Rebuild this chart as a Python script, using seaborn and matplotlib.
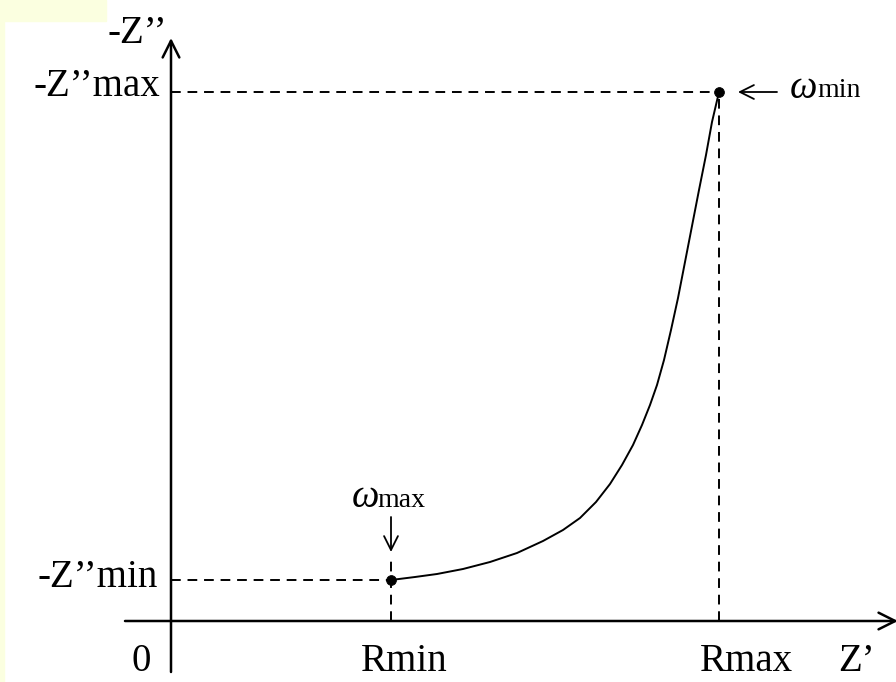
import matplotlib
matplotlib.use("Agg")
import matplotlib.pyplot as plt
import seaborn as sns
import pandas as pd
from matplotlib.patches import Rectangle

sns.set_theme(style="white")
plt.rcParams['font.family'] = ['Liberation Serif', 'DejaVu Serif']
plt.rcParams['text.color'] = 'black'

# Data (Z' along x, -Z'' along y), arbitrary units
curve_re = [220, 244, 266, 292, 319, 346, 372, 392, 409, 425, 439, 451, 462,
            471, 479, 486, 493, 500, 507, 514, 521, 528, 535, 541, 548]
curve_im = [41, 44, 47, 52, 59, 68, 80, 91, 103, 119, 137, 156, 176,
            196, 216, 236, 261, 291, 323, 359, 395, 431, 466, 499, 529]
r_min, r_max = 220, 548
z_min, z_max = 41, 529
end_re = [r_min, r_max]
end_im = [z_min, z_max]

df = pd.DataFrame({"re": curve_re, "im": curve_im})
pts = pd.DataFrame({"re": end_re, "im": end_im})

fig = plt.figure(figsize=(8.96, 6.82), dpi=100)
ax = fig.add_axes([0, 0, 1, 1])

# yellow decorations
ycol = "#FBFFE0"
fig.patches.append(Rectangle((0, 1 - 21 / 682), 106 / 896, 21 / 682, transform=fig.transFigure,
                             color=ycol, zorder=0))
fig.patches.append(Rectangle((0, 0), 4 / 896, 1, transform=fig.transFigure, color=ycol, zorder=0))

# curve and endpoints
sns.lineplot(data=df, x="re", y="im", ax=ax, color="black", lw=1.4, sort=False, estimator=None)
sns.scatterplot(data=pts, x="re", y="im", ax=ax, color="black", s=50, zorder=5, edgecolor="black")
ax.set_xlim(-171, 725)
ax.set_ylim(-61, 621)
ax.axis("off")

# axes with arrows
arrow_kw = dict(arrowstyle="->", color="black", lw=1.8, mutation_scale=30, shrinkA=0, shrinkB=0)
ax.annotate("", xy=(0, 583), xytext=(0, -51), arrowprops=arrow_kw)
ax.annotate("", xy=(727, 0), xytext=(-46, 0), arrowprops=arrow_kw, annotation_clip=False)

# dashed guide lines
dash = dict(color="black", lw=1.4, linestyle=(0, (5, 3.5)))
ax.plot([0, r_max], [z_max, z_max], **dash)
ax.plot([r_max, r_max], [0, z_max], **dash)
ax.plot([0, r_min], [z_min, z_min], **dash)
ax.plot([r_min, r_min], [0, z_min + 20], **dash)

# omega arrows
small_arrow = dict(arrowstyle="->", color="black", lw=1.3, mutation_scale=25, shrinkA=0, shrinkB=0)
ax.annotate("", xy=(r_max + 19, z_max), xytext=(r_max + 58, z_max), arrowprops=small_arrow)
ax.annotate("", xy=(r_min, 69), xytext=(r_min, 104), arrowprops=small_arrow)

fs = 28
ax.text(-4, 578, "-Z\u2019\u2019", fontsize=fs, ha="right", va="baseline")
ax.text(-11, 525, "-Z\u2019\u2019max", fontsize=fs, ha="right", va="baseline")
ax.text(-13, 34, "-Z\u2019\u2019min", fontsize=fs, ha="right", va="baseline")
ax.text(-30, -50, "0", fontsize=fs, ha="center", va="baseline")
ax.text(233, -50, "Rmin", fontsize=fs, ha="center", va="baseline")
ax.text(575, -50, "Rmax", fontsize=fs, ha="center", va="baseline")
ax.text(667, -50, "Z\u2019", fontsize=fs, ha="left", va="baseline")

# omega labels
ax.text(619, 523, "\u03c9", fontsize=28, style="italic", ha="left", va="baseline")
ax.text(646, 524, "min", fontsize=20, ha="left", va="baseline")
ax.text(181, 114, "\u03c9", fontsize=28, style="italic", ha="left", va="baseline")
ax.text(206, 114, "max", fontsize=20, ha="left", va="baseline")

fig.savefig("out.png", dpi=100)
